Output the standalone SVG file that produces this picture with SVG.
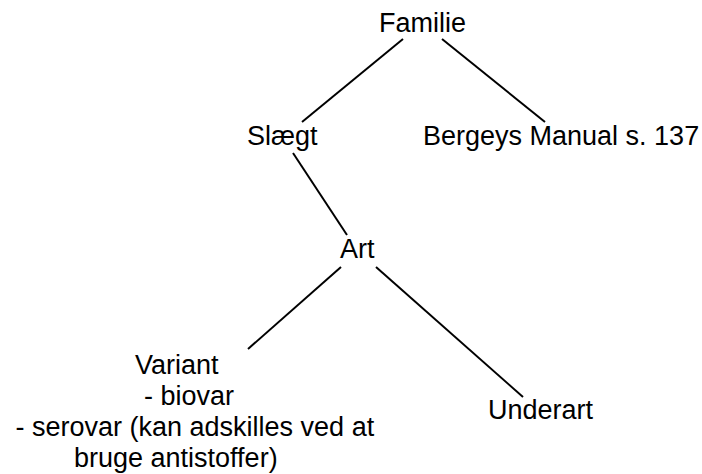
<svg xmlns="http://www.w3.org/2000/svg" width="702" height="474" viewBox="0 0 702 474">
<style>
text{font-family:"Liberation Sans",Arial,Helvetica,sans-serif;font-size:27px;fill:#000}
.c line{stroke:#000;stroke-width:2;stroke-linecap:butt}
</style>
<rect width="702" height="474" fill="#fff"/>
<g id="connectors" class="c">
<line x1="403" y1="39" x2="302" y2="122"/>
<line x1="442" y1="39" x2="545" y2="122"/>
<line x1="293" y1="153" x2="347" y2="235"/>
<line x1="341" y1="267" x2="248" y2="349"/>
<line x1="376" y1="267" x2="523" y2="397"/>
</g>
<g id="familie"><text x="379" y="32">Familie</text></g>
<g id="slaegt"><text x="247" y="145">Slægt</text></g>
<g id="bergeys"><text x="423" y="145">Bergeys Manual s. 137</text></g>
<g id="art"><text x="340" y="258">Art</text></g>
<g id="variant">
<text x="135" y="374">Variant</text>
<text x="144" y="405">- biovar</text>
<text x="15.5" y="436">- serovar (kan adskilles ved at</text>
<text x="74" y="467">bruge antistoffer)</text>
</g>
<g id="underart"><text x="488" y="419">Underart</text></g>
</svg>
